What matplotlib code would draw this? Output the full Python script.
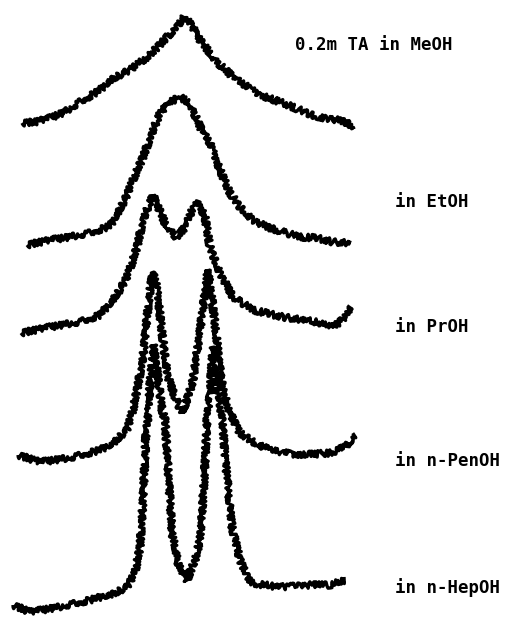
import matplotlib.pyplot as plt

# Traced spectra (x = channel, y = trace position, top = 0)
meoh_x = [22, 35, 50, 65, 80, 100, 110, 130, 150, 167, 178, 185, 192, 200, 217, 233, 260, 283, 300, 317, 333, 345, 355]
meoh_y = [123, 122, 118, 112, 102, 90, 80, 70, 55, 37, 25, 16, 26, 40, 62, 77, 95, 103, 110, 117, 119, 122, 127]

etoh_x = [27, 50, 70, 90, 110, 125, 133, 143, 153, 160, 170, 180, 190, 200, 210, 220, 230, 240, 253, 267, 283, 300, 317, 333, 350]
etoh_y = [245, 240, 237, 233, 226, 200, 180, 157, 130, 113, 102, 97, 103, 127, 143, 170, 193, 207, 220, 227, 232, 237, 238, 242, 243]

proh_x = [21, 50, 80, 100, 110, 120, 127, 133, 137, 143, 148, 153, 165, 177, 185, 192, 198, 205, 210, 220, 233, 253, 283, 317, 333, 345, 350]
proh_y = [333, 327, 322, 315, 303, 290, 277, 260, 247, 220, 207, 195, 223, 238, 227, 210, 202, 217, 247, 273, 297, 310, 317, 322, 327, 318, 307]

penoh_x = [18, 40, 70, 100, 113, 127, 133, 137, 143, 147, 150, 153, 157, 162, 168, 175, 182, 188, 193, 200, 205, 208, 213, 218, 223, 230, 240, 255, 270, 300, 330, 345, 355]
penoh_y = [455, 462, 458, 450, 443, 430, 410, 390, 357, 317, 290, 272, 287, 333, 377, 397, 413, 397, 380, 330, 293, 270, 307, 350, 390, 413, 433, 443, 450, 455, 453, 447, 435]

hepoh_x = [13, 30, 60, 90, 115, 127, 135, 140, 143, 146, 148, 150, 154, 158, 162, 165, 168, 172, 178, 187, 195, 200, 204, 207, 210, 213, 217, 222, 226, 232, 240, 250, 280, 310, 330, 345]
hepoh_y = [605, 612, 607, 600, 593, 587, 573, 547, 500, 433, 417, 383, 345, 377, 410, 420, 467, 533, 563, 580, 560, 540, 483, 420, 390, 347, 387, 417, 467, 527, 560, 583, 587, 585, 585, 580]

labels = ["0.2m TA in MeOH", "in EtOH", "in PrOH", "in n-PenOH", "in n-HepOH"]
label_x = [295, 395, 395, 395, 395]
label_y = [45, 202, 327, 461, 588]

fig = plt.figure(figsize=(5.14, 6.29), dpi=100)
ax = fig.add_axes([0, 0, 1, 1])

for xs, ys in [(meoh_x, meoh_y), (etoh_x, etoh_y), (proh_x, proh_y),
               (penoh_x, penoh_y), (hepoh_x, hepoh_y)]:
    line, = ax.plot(xs, ys, color='black', lw=2.4, solid_capstyle='butt')
    # scanned-trace noise look
    line.set_sketch_params(scale=3.2, length=1.8, randomness=5)

for txt, tx, ty in zip(labels, label_x, label_y):
    ax.text(tx, ty, txt, fontsize=12.5, family='DejaVu Sans Mono',
            fontweight='bold', va='center', ha='left')

ax.set_xlim(0, 514)
ax.set_ylim(629, 0)
ax.axis('off')

fig.savefig('out.png', dpi=100)
